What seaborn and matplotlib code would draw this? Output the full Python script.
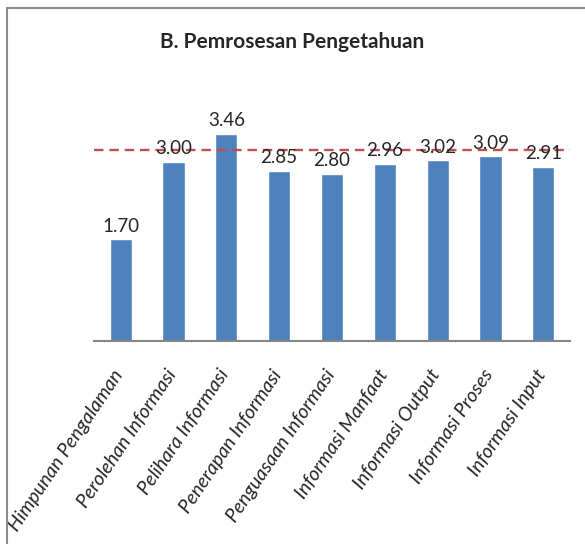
import numpy as np
import pandas as pd
import matplotlib
matplotlib.use("Agg")
import matplotlib.pyplot as plt
import matplotlib.transforms as mtransforms
import seaborn as sns
from matplotlib.patches import Rectangle

# =======================================
# Data
# =======================================
CATEGORIES = [
    "Himpunan Pengalaman", "Perolehan Informasi", "Pelihara Informasi",
    "Penerapan Informasi", "Penguasaan Informasi", "Informasi Manfaat",
    "Informasi Output", "Informasi Proses", "Informasi Input",
]
SCORES = [1.70, 3.00, 3.46, 2.85, 2.80, 2.96, 3.02, 3.09, 2.91]
REFERENCE_LINE = 3.19
TITLE = "B. Pemrosesan Pengetahuan"

BAR_COLOR = "#4F81BD"
LINE_COLOR = "#C0504D"

# =======================================
# Plot
# =======================================
sns.set_style("white")
plt.rcParams["font.family"] = ["Lato", "DejaVu Sans"]

df = pd.DataFrame({"kategori": CATEGORIES, "skor": SCORES})

fig = plt.figure(figsize=(5.85, 5.44), dpi=100)
ax = fig.add_axes([0.161, 0.373, 0.813, 0.44])

sns.barplot(data=df, x="kategori", y="skor", color=BAR_COLOR,
            width=0.42, saturation=1, ax=ax)

ax.axhline(REFERENCE_LINE, color=LINE_COLOR, linestyle=(0, (4, 2.5)), linewidth=1.7)

for i, v in enumerate(SCORES):
    ax.text(i, v + 0.22, f"{v:.2f}", ha="center", va="center", fontsize=13.5)

ax.set_ylim(0, 4)
ax.set_xlim(-0.5, len(CATEGORIES) - 0.5)
ax.set_yticks([])
ax.set_xlabel("")
ax.set_ylabel("")
for side in ["top", "right", "left"]:
    ax.spines[side].set_visible(False)
ax.spines["bottom"].set_color("#868686")
ax.spines["bottom"].set_linewidth(1.5)

ax.set_xticks(range(len(CATEGORIES)))
ax.set_xticklabels(CATEGORIES, rotation=56, ha="right", rotation_mode="anchor",
                   fontsize=14, style="italic")
ax.tick_params(axis="x", length=0, pad=14)
# nudge the rotated labels a little left/down like the original
shift = mtransforms.ScaledTranslation(-8 / 100, -6 / 100, fig.dpi_scale_trans)
for lbl in ax.get_xticklabels():
    lbl.set_transform(lbl.get_transform() + shift)

fig.text(0.5, 0.922, TITLE, ha="center", va="center", fontsize=15,
         fontweight="bold")

# outer chart frame (only left and top edges visible)
fig.patches.append(Rectangle((0.012, -0.1), 1.1, 1.085, transform=fig.transFigure,
                             fill=False, edgecolor="#8c8c8c", linewidth=1.5))

fig.savefig("out.png", dpi=100)
